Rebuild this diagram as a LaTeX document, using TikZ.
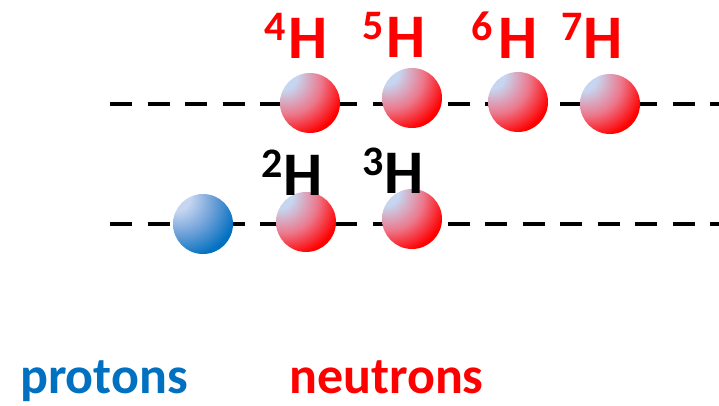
\documentclass[tikz,border=0pt]{standalone}
\usepackage{fontspec}
\setmainfont{Carlito}
\definecolor{pblue}{RGB}{0,112,192}
\definecolor{nred}{RGB}{255,0,0}
\definecolor{blight}{RGB}{198,214,240}
\definecolor{nmid}{RGB}{236,120,140}
\definecolor{pmid}{RGB}{105,158,215}
\pgfdeclareradialshading{neutronball}{\pgfpoint{-26bp}{26bp}}{color(0bp)=(blight); color(12bp)=(blight); color(28bp)=(nmid); color(43bp)=(nred); color(100bp)=(nred)}
\pgfdeclareradialshading{protonball}{\pgfpoint{-26bp}{26bp}}{color(0bp)=(blight); color(12bp)=(blight); color(28bp)=(pmid); color(43bp)=(pblue); color(100bp)=(pblue)}
\newcommand\isup[1]{\raisebox{18pt}{\fontsize{42}{42}\selectfont #1}}
\tikzset{
  ball/.style={circle, minimum size=60pt, inner sep=0pt, draw=none},
  neutron/.style={ball, shading=neutronball},
  proton/.style={ball, shading=protonball},
  level/.style={line width=4pt, dash pattern=on 22pt off 15.5pt},
  iso/.style={anchor=base west, inner sep=0pt, font=\fontsize{62}{62}\selectfont\bfseries},
  lab/.style={anchor=base west, inner sep=0pt, font=\fontsize{52}{52}\selectfont\bfseries},
}
\begin{document}
\begin{tikzpicture}[x=1pt,y=-1pt]
\useasboundingbox (0,0) rectangle (719,405);
\coordinate (t0) at (110,104);
\coordinate (t1) at (719,104);
\coordinate (b0) at (110,224);
\coordinate (b1) at (719,224);
\draw[level] (t0) -- (t1);
\draw[level] (b0) -- (b1);
% top row
\node[neutron] (n4) at (310,103) {};
\node[neutron] (n5) at (412,98) {};
\node[neutron] (n6) at (518,102) {};
\node[neutron] (n7) at (610,104) {};
% bottom row
\node[proton] (p1) at (203,224) {};
\node[neutron] (n2) at (306,222) {};
\node[neutron] (n3) at (412,219) {};
% labels
\node[iso, text=nred] (h4) at (264,58) {\isup{4}\kern3pt H};
\node[iso, text=nred] (h5) at (362,57) {\isup{5}\kern3pt H};
\node[iso, text=nred] (h6) at (471,58) {\isup{6}\kern6pt H};
\node[iso, text=nred] (h7) at (561,58) {\isup{7}\kern1pt H};
\node[iso, text=black] (h2) at (261,195) {\isup{2}\kern1pt H};
\node[iso, text=black] (h3) at (362,193) {\isup{3}\kern1pt H};
\node[lab, text=pblue] (prot) at (20,393) {protons};
\node[lab, text=nred] (neut) at (289,393) {neutrons};
\end{tikzpicture}
\end{document}
